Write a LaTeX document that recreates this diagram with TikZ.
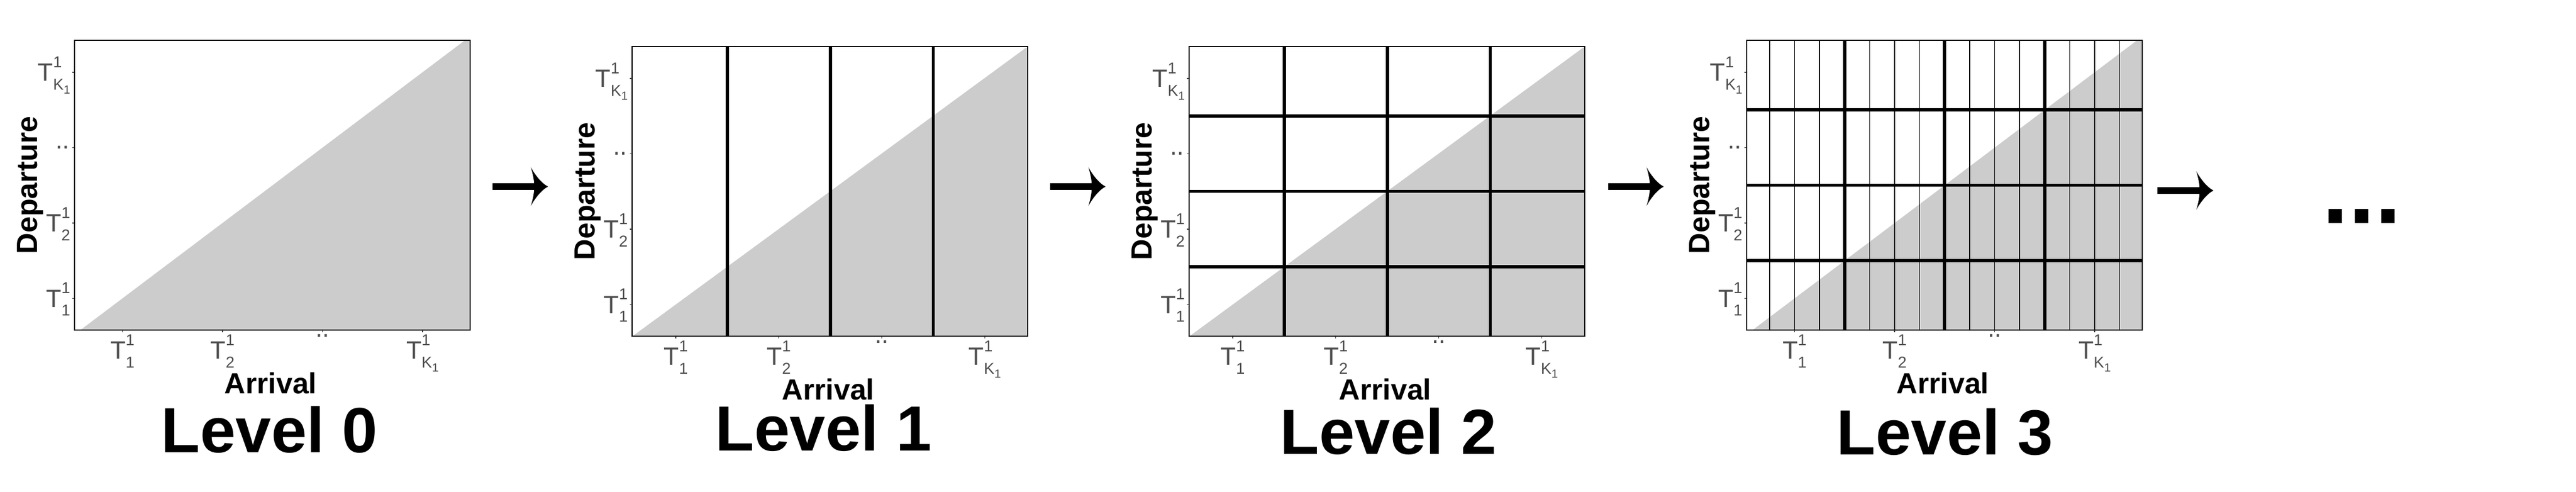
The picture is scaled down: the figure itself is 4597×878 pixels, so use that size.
\documentclass[tikz,border=0pt]{standalone}
\usepackage{fontspec}
\setmainfont{Liberation Sans}

\definecolor{areagrey}{HTML}{CCCCCC}
\definecolor{labelgrey}{HTML}{4D4D4D}
\definecolor{tickgrey}{HTML}{333333}

\newcommand{\tlab}[1]{T\rlap{\raisebox{7.1pt}{\fontsize{8}{8}\selectfont 1}}\raisebox{-4.3pt}{\fontsize{8}{8}\selectfont #1}}
\newcommand{\kone}{K\raisebox{-2pt}{\fontsize{6}{6}\selectfont 1}}

\begin{document}
\begin{tikzpicture}[x=0.1mm, y=-0.1mm,
	frame/.style={draw=black, line width=0.4pt},
	major/.style={black, line width=1.6pt},
	minor/.style={black, line width=0.4pt},
	tickmark/.style={tickgrey, line width=0.35pt},
	ticklabel/.style={text=labelgrey, inner sep=0pt, font=\fontsize{12.7}{13}\selectfont},
	axislabel/.style={inner sep=0pt, font=\bfseries\fontsize{14.8}{15}\selectfont},
	levellabel/.style={inner sep=0pt, font=\bfseries\fontsize{32.4}{33}\selectfont},
	shaft/.style={line width=3.3pt}]
	
	\useasboundingbox (0,0) rectangle (4597,878);
	
	\foreach \lft/\tp/\xa/\xs/\n/\lvx/\lvy in {133/72/85.5/178.5/0/481/808, 1128/83/78/183.8/1/1470/805, 2122/83/78/183.8/2/2478/811, 3117/72/85.5/178.5/3/3471/812} {
		\begin{scope}[shift={(\lft,\tp)}]
			\fill[areagrey] ({\xa-0.42*\xs},517) -- ({min(\xa+3.424*\xs,706)},0) -- (706,0) -- (706,517) -- cycle;
			\ifnum\n=3
				\foreach \k in {0,...,14}
					\draw[minor] ({\xa+(\k-1)*\xs/4},0) -- ({\xa+(\k-1)*\xs/4},517);
			\fi
			\ifnum\n>0
				\foreach \j in {0,1,2}
					\draw[major] ({\xa+(\j+0.5)*\xs},0) -- ({\xa+(\j+0.5)*\xs},517);
			\fi
			\ifnum\n>1
				\foreach \gy in {124,258.5,393}
					\draw[major] (0,\gy) -- (706,\gy);
			\fi
			\draw[frame] (0,0) rectangle (706,517);
			
			\foreach \ty in {57,191.5,326,460.5}
				\draw[tickmark] (-4,\ty) -- (0,\ty);
			\foreach \j in {0,1,2,3}
				\draw[tickmark] ({\xa+\j*\xs},517) -- ({\xa+\j*\xs},521);
			
			\node[ticklabel, anchor=base east] (yk\n) at (-7,73) {\tlab{\kone}};
			\node[ticklabel, anchor=base east] (yd\n) at (-8,193.5) {..};
			\node[ticklabel, anchor=base east] (ytwo\n) at (-7,342) {\tlab{2}};
			\node[ticklabel, anchor=base east] (yone\n) at (-7,476.5) {\tlab{1}};
			\node[ticklabel, anchor=north] (xone\n) at (\xa,524) {\tlab{1}};
			\node[ticklabel, anchor=north] (xtwo\n) at ({\xa+\xs},524) {\tlab{2}};
			\node[ticklabel, anchor=base] (xd\n) at ({\xa+2*\xs},530) {..};
			\node[ticklabel, anchor=north] (xk\n) at ({\xa+3*\xs},524) {\tlab{\kone}};
			
			\node[axislabel, anchor=base, rotate=90] (dep\n) at (-67,258.5) {Departure};
			\node[axislabel, anchor=base] (arr\n) at (350,631) {Arrival};
		\end{scope}
		\node[levellabel, anchor=base] (lev\n) at (\lvx,\lvy) {Level \n};
	}
	
	\foreach \a/\sx/\ex/\ay in {0/879/978/333, 1/1874/1973/333, 2/2870/2969/333, 3/3850/3950/340} {
		\coordinate (from\a) at (\sx,\ay);
		\coordinate (to\a) at (\ex,\ay);
		\draw[shaft] (from\a) -- ([xshift=-2.4mm]to\a);
		\fill[shift={(to\a)}] (0,0) .. controls (-12,-6) and (-24,-22) .. (-30.6,-34.4)
			.. controls (-27,-22) and (-25,-12) .. (-25,-6) -- (-25,6)
			.. controls (-25,12) and (-27,22) .. (-30.6,34.4)
			.. controls (-24,22) and (-12,6) .. (0,0) -- cycle;
	}
	
	\node[inner sep=0pt, anchor=base, font=\bfseries\fontsize{48}{48}\selectfont] (more) at (4215,399) {...};
\end{tikzpicture}
\end{document}
